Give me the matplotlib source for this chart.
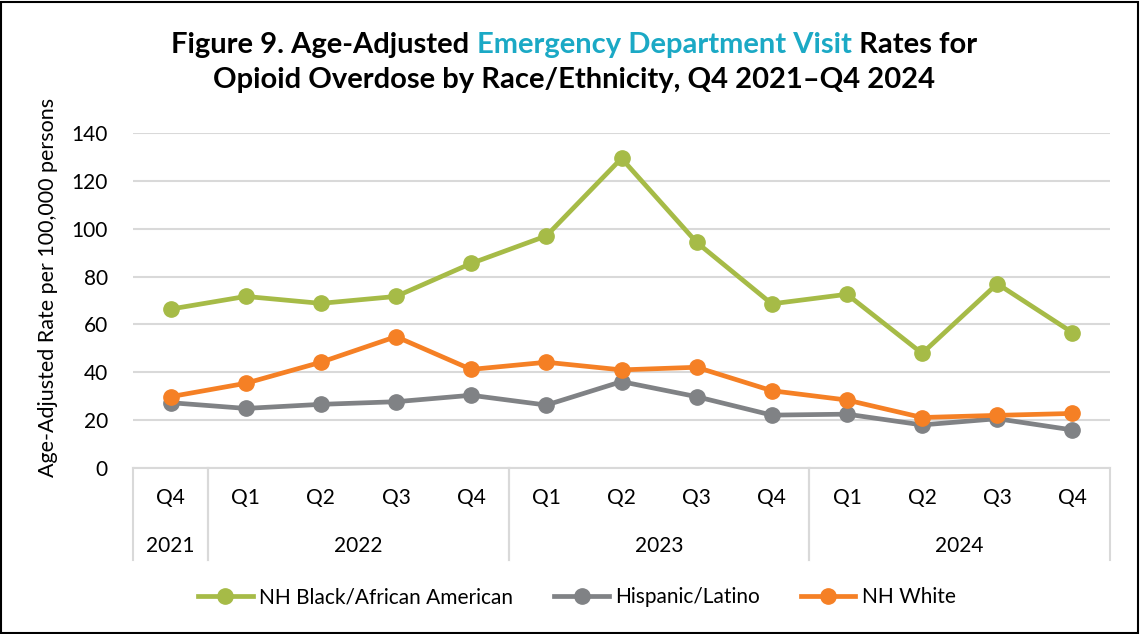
import matplotlib
matplotlib.use('agg')
import matplotlib.pyplot as plt
from matplotlib.lines import Line2D
from matplotlib.patches import Rectangle
from matplotlib.transforms import blended_transform_factory

plt.rcParams['font.family'] = ['Lato', 'DejaVu Sans']

# Data
quarters = ['Q4', 'Q1', 'Q2', 'Q3', 'Q4', 'Q1', 'Q2', 'Q3', 'Q4', 'Q1', 'Q2', 'Q3', 'Q4']
years = ['2021', '2022', '2022', '2022', '2022', '2023', '2023', '2023', '2023',
         '2024', '2024', '2024', '2024']
black = [66.4, 71.7, 68.8, 71.7, 85.5, 97.0, 129.4, 94.3, 68.6, 72.6, 47.9, 77.0, 56.6]
hispanic = [27.3, 24.9, 26.6, 27.7, 30.4, 26.3, 36.1, 29.8, 22.1, 22.5, 18.0, 20.6, 15.9]
white = [29.8, 35.4, 44.2, 54.9, 41.2, 44.2, 41.0, 42.1, 32.3, 28.4, 21.1, 22.0, 22.8]

series = [
    ('NH Black/African American', black, '#A6BB47'),
    ('Hispanic/Latino', hispanic, '#808285'),
    ('NH White', white, '#F58025'),
]

fig = plt.figure(figsize=(11.4, 6.34), dpi=100)
ax = fig.add_axes([133 / 1140, 1 - 468 / 634, 977 / 1140, 335 / 634])

x = list(range(len(quarters)))
# grey first, then green, orange on top
for idx in (1, 0, 2):
    name, vals, col = series[idx]
    ax.plot(x, vals, color=col, lw=3.4, marker='o', ms=11, zorder=3 + idx)

ax.set_xlim(-0.5, len(x) - 0.5)
ax.set_ylim(0, 140)
ax.set_yticks(range(0, 141, 20))
ax.tick_params(axis='y', length=0, labelsize=15, pad=18)
ax.set_xticks([])
ax.grid(axis='y', color='#D9D9D9', lw=1.5)
ax.set_axisbelow(True)
for s in ('top', 'right', 'left'):
    ax.spines[s].set_visible(False)
ax.spines['bottom'].set_color('#D9D9D9')
ax.spines['bottom'].set_linewidth(1.5)
ax.set_ylabel('Age-Adjusted Rate per 100,000 persons', fontsize=15.5)
ax.yaxis.set_label_coords(-0.077, 0.54)

# Multi-level category axis
trans = blended_transform_factory(ax.transData, ax.transAxes)
for i, q in enumerate(quarters):
    ax.text(i, -0.09, q, transform=trans, ha='center', va='center', fontsize=15)

groups = []
for i, yr in enumerate(years):
    if groups and groups[-1][0] == yr:
        groups[-1][2] = i
    else:
        groups.append([yr, i, i])
for yr, a, b in groups:
    ax.text((a + b) / 2, -0.233, yr, transform=trans, ha='center', va='center', fontsize=15)
    for edge in (a - 0.5, b + 0.5):
        ax.plot([edge, edge], [0, -0.275], transform=trans, color='#D9D9D9', lw=1.5,
                clip_on=False)

# Title with coloured piece, centred
pieces1 = [('Figure 9. Age-Adjusted ', 'black'), ('Emergency Department Visit', '#1BA9C5'),
           (' Rates for', 'black')]
renderer = fig.canvas.get_renderer()
texts = []
for txt, col in pieces1:
    texts.append(fig.text(0, 1 - 45 / 634, txt, color=col, fontsize=21, fontweight='bold',
                          va='center', ha='left'))
widths = [t.get_window_extent(renderer=renderer).width / fig.bbox.width for t in texts]
xpos = 574 / 1140 - sum(widths) / 2
for t, w in zip(texts, widths):
    t.set_x(xpos)
    xpos += w
fig.text(574 / 1140, 1 - 80 / 634, 'Opioid Overdose by Race/Ethnicity, Q4 2021\u2013Q4 2024',
         fontsize=21, fontweight='bold', va='center', ha='center')

# Legend
handles = [Line2D([], [], color=c, lw=3.4, marker='o', ms=11) for _, _, c in series]
fig.legend(handles, [n for n, _, _ in series], loc='center', ncol=3,
           bbox_to_anchor=(577 / 1140, 1 - 597 / 634), frameon=False, fontsize=15,
           handlelength=2.6, columnspacing=2.0, handletextpad=0.3)

# Outer frame
fig.patches.append(Rectangle((0.001, 0.001), 0.997, 0.996, transform=fig.transFigure,
                             fill=False, edgecolor='black', lw=1.5))

fig.savefig('out.png', dpi=100)
